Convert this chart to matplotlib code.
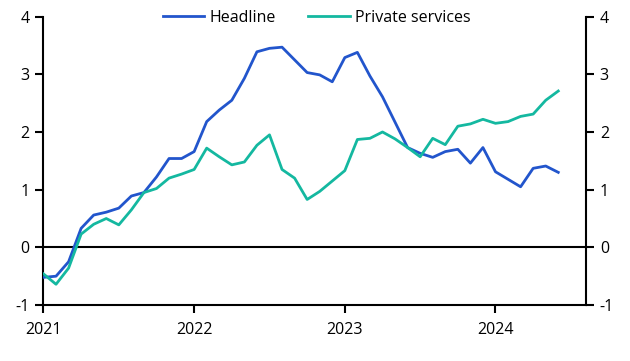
import matplotlib
matplotlib.use("Agg")
import matplotlib.pyplot as plt

# Monthly data, Jan 2021 - Jun 2024 (% y/y)
headline = [-0.52, -0.50, -0.25, 0.33, 0.56, 0.61, 0.68, 0.89, 0.95, 1.22, 1.54, 1.54,
            1.66, 2.18, 2.38, 2.55, 2.93, 3.39, 3.45, 3.47, 3.25, 3.03, 2.99, 2.87,
            3.29, 3.38, 2.97, 2.61, 2.17, 1.73, 1.63, 1.56, 1.66, 1.70, 1.46, 1.73,
            1.31, 1.18, 1.05, 1.37, 1.41, 1.30]
private_services = [-0.46, -0.64, -0.36, 0.23, 0.40, 0.50, 0.39, 0.65, 0.95, 1.02, 1.20, 1.27,
                    1.35, 1.72, 1.57, 1.43, 1.48, 1.77, 1.95, 1.35, 1.20, 0.83, 0.97, 1.15,
                    1.33, 1.87, 1.89, 2.00, 1.88, 1.73, 1.57, 1.89, 1.78, 2.10, 2.14, 2.22,
                    2.15, 2.18, 2.27, 2.31, 2.55, 2.71]
year_labels = ["2021", "2022", "2023", "2024"]

plt.rcParams['font.family'] = ['Open Sans', 'DejaVu Sans']
plt.rcParams['font.size'] = 11.5

months = list(range(len(headline)))

fig = plt.figure(figsize=(6.3, 3.61), dpi=100)
ax = fig.add_axes([0.069, 0.155, 0.861, 0.799])

ax.plot(months, headline, color='#2255cc', lw=2.0, label='Headline', zorder=3)
ax.plot(months, private_services, color='#14b8a0', lw=2.0, label='Private services', zorder=3)
ax.axhline(0, color='black', lw=1.5, zorder=2)

ax.set_xlim(0, 43.2)
ax.set_ylim(-1, 4)
ax.set_xticks([0, 12, 24, 36])
ax.set_xticklabels(year_labels)
ax.set_yticks(range(-1, 5))
ax.set_yticklabels([str(v) for v in range(-1, 5)])

ax.spines['top'].set_visible(False)
for s in ['left', 'right', 'bottom']:
    ax.spines[s].set_linewidth(1.5)
    ax.spines[s].set_color('black')

ax.tick_params(axis='y', which='both', left=True, right=True, labelleft=True, labelright=True,
               direction='out', length=6, width=1.5, pad=4)
ax.tick_params(axis='x', direction='out', length=6, width=1.5, pad=6)

leg = ax.legend(loc='upper center', bbox_to_anchor=(0.503, 1.0), bbox_transform=fig.transFigure,
                ncol=2, frameon=False, handlelength=2.6, handletextpad=0.35, columnspacing=2.0,
                borderaxespad=0.2)

fig.savefig('out.png', dpi=100)
